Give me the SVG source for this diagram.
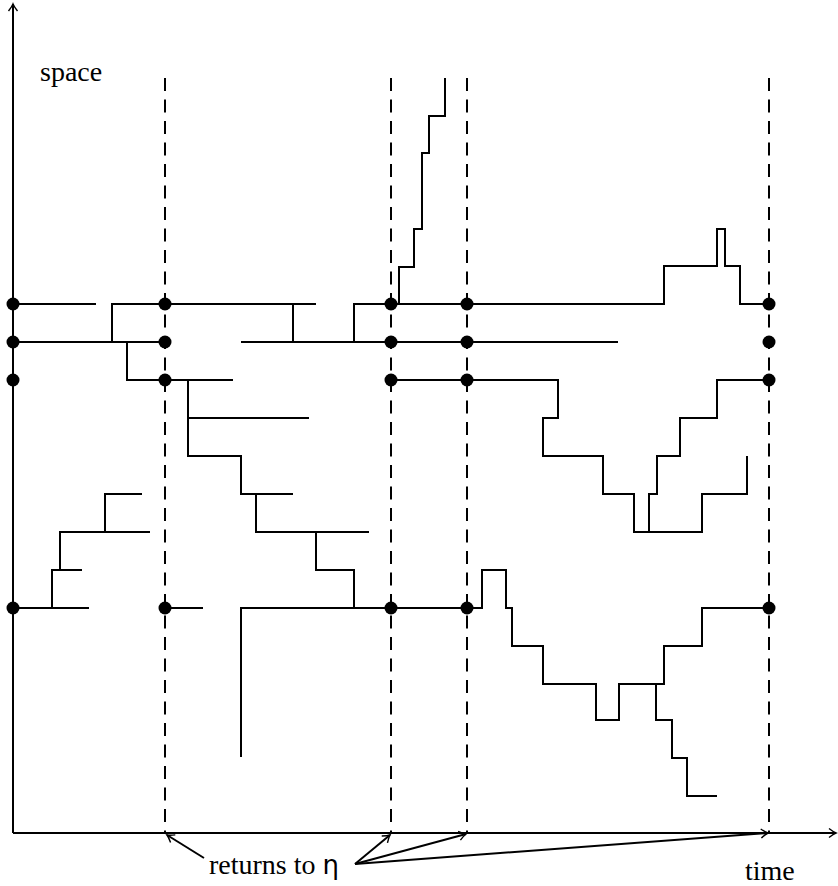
<svg xmlns="http://www.w3.org/2000/svg" width="838" height="886" viewBox="0 0 838 886">
<style>
.p{fill:none;stroke:#000;stroke-width:2;stroke-linecap:butt;stroke-linejoin:miter}
.ax{fill:none;stroke:#000;stroke-width:2}
.d{fill:none;stroke:#000;stroke-width:2;stroke-dasharray:13 8.5}
.dot{fill:#000}
.t{font-family:"Liberation Serif","DejaVu Serif",serif;font-size:28px;fill:#000}
.eta{font-family:"DejaVu Sans","Liberation Sans",sans-serif;font-size:26px}
</style>
<defs>
<marker id="tip" markerWidth="12" markerHeight="12" refX="0" refY="0" viewBox="-9 -6 11 12" orient="auto" markerUnits="userSpaceOnUse">
<path d="M-7 -4.5 Q-2.5 -1 0 0 Q-2.5 1 -7 4.5" fill="none" stroke="#000" stroke-width="1.4"/>
</marker>
</defs>
<rect width="838" height="886" fill="#fff"/>
<g id="axes">
<line class="ax" x1="13" y1="833" x2="13" y2="4" marker-end="url(#tip)"/>
<line class="ax" x1="13" y1="833" x2="836" y2="833" marker-end="url(#tip)"/>
</g>
<g id="dashed">
<line class="d" x1="165" y1="78" x2="165" y2="833"/>
<line class="d" x1="391" y1="78" x2="391" y2="833"/>
<line class="d" x1="467" y1="78" x2="467" y2="833"/>
<line class="d" x1="769" y1="78" x2="769" y2="833"/>
</g>
<g id="paths">
<path class="p" d="M13 304H96"/>
<path class="p" d="M112 342V304H316"/>
<path class="p" d="M293 304V342"/>
<path class="p" d="M13 342H165"/>
<path class="p" d="M127 342V380H233"/>
<path class="p" d="M188 380V456H241V494H293"/>
<path class="p" d="M188 418H309"/>
<path class="p" d="M256 494V532H369"/>
<path class="p" d="M316 532V570H354V608"/>
<path class="p" d="M241 757V608H482V570H506V608H512V646H543V684H596V720H619V684H664V646H702V608H769"/>
<path class="p" d="M656 684V720H672V758H687V796H717"/>
<path class="p" d="M399 304V267H414V229H422V153H429V116H445V78"/>
<path class="p" d="M354 342V304H664V266H717V229H725V266H740V304H769"/>
<path class="p" d="M241 342H618"/>
<path class="p" d="M391 380H558V418H543V456H603V494H634V532H702V494H747V456"/>
<path class="p" d="M649 532V494H657V456H680V418H717V380H769"/>
<path class="p" d="M142 494H105V532"/>
<path class="p" d="M150 532H60V570"/>
<path class="p" d="M82 570H52V608"/>
<path class="p" d="M13 608H89"/>
<path class="p" d="M165 608H203"/>
</g>
<g id="dots">
<circle class="dot" cx="13" cy="304" r="6.5"/>
<circle class="dot" cx="13" cy="342" r="6.5"/>
<circle class="dot" cx="13" cy="380" r="6.5"/>
<circle class="dot" cx="13" cy="608" r="6.5"/>
<circle class="dot" cx="165" cy="304" r="6.5"/>
<circle class="dot" cx="165" cy="342" r="6.5"/>
<circle class="dot" cx="165" cy="380" r="6.5"/>
<circle class="dot" cx="165" cy="608" r="6.5"/>
<circle class="dot" cx="391" cy="304" r="6.5"/>
<circle class="dot" cx="391" cy="342" r="6.5"/>
<circle class="dot" cx="391" cy="380" r="6.5"/>
<circle class="dot" cx="391" cy="608" r="6.5"/>
<circle class="dot" cx="467" cy="304" r="6.5"/>
<circle class="dot" cx="467" cy="342" r="6.5"/>
<circle class="dot" cx="467" cy="380" r="6.5"/>
<circle class="dot" cx="467" cy="608" r="6.5"/>
<circle class="dot" cx="769" cy="304" r="6.5"/>
<circle class="dot" cx="769" cy="342" r="6.5"/>
<circle class="dot" cx="769" cy="380" r="6.5"/>
<circle class="dot" cx="769" cy="608" r="6.5"/>
</g>
<g id="connectors">
<line class="ax" x1="204" y1="858" x2="167" y2="835" marker-end="url(#tip)" stroke-width="1.6"/>
<line class="ax" x1="355" y1="864" x2="390" y2="835" marker-end="url(#tip)" stroke-width="1.6"/>
<line class="ax" x1="355" y1="864" x2="466" y2="834" marker-end="url(#tip)" stroke-width="1.6"/>
<line class="ax" x1="355" y1="864" x2="768" y2="833" marker-end="url(#tip)" stroke-width="1.6"/>
</g>
<g id="labels">
<text class="t" x="40" y="81">space</text>
<text class="t" x="209" y="874">returns to <tspan class="eta">η</tspan></text>
<text class="t" x="745" y="880">time</text>
</g>
</svg>
